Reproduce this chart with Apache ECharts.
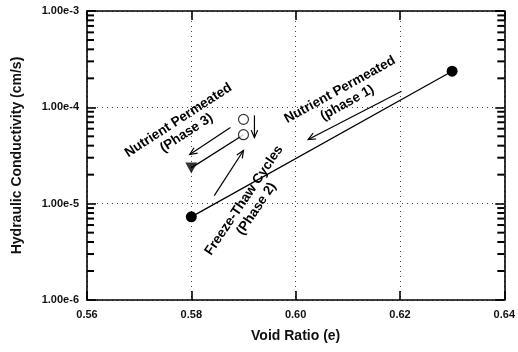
<!DOCTYPE html>
<html>
<head>
<meta charset="utf-8">
<script src="https://cdn.jsdelivr.net/npm/echarts@6/dist/echarts.min.js"></script>
<style>
html,body{margin:0;padding:0;background:#fff;}
#chart{width:518px;height:352px;}
</style>
</head>
<body>
<div id="chart"></div>
<script>
// ---- data ----
const xTicks = [0.56, 0.58, 0.60, 0.62, 0.64];
const yTicks = [1e-6, 1e-5, 1e-4, 1e-3];
// phase 1 line (void ratio, hydraulic conductivity)
const phase1E = [0.58, 0.63];
const phase1K = [7.3e-6, 2.37e-4];
// freeze-thaw points (open circles)
const freezeE = [0.59, 0.59];
const freezeK = [7.5e-5, 5.2e-5];
// phase 3 line (open circle -> triangle)
const phase3E = [0.59, 0.58];
const phase3K = [5.2e-5, 2.35e-5];
// annotation arrows: start and end (head at end)
const arrowStartE = [0.6203, 0.5875, 0.5844, 0.5921];
const arrowStartK = [1.47e-4, 6.19e-5, 1.21e-5, 8.26e-5];
const arrowEndE   = [0.6024, 0.5797, 0.5900, 0.5921];
const arrowEndK   = [4.64e-5, 3.24e-5, 3.56e-5, 4.87e-5];
// annotation texts
const noteText = ['Nutrient Permeated\n(phase 1)', 'Nutrient Permeated\n(Phase 3)', 'Freeze-Thaw Cycles\n(Phase 2)'];
const noteE = [0.6092, 0.5783, 0.5913];
const noteK = [1.30e-4, 6.3e-5, 9.8e-6];
const noteAngle = [29, 33, 56];
// minor log ticks (2..9 in each decade)
const minorK = [2e-6, 3e-6, 4e-6, 5e-6, 6e-6, 7e-6, 8e-6, 9e-6,
                2e-5, 3e-5, 4e-5, 5e-5, 6e-5, 7e-5, 8e-5, 9e-5,
                2e-4, 3e-4, 4e-4, 5e-4, 6e-4, 7e-4, 8e-4, 9e-4];
const xMin = 0.56, xMax = 0.64;

const FONT = '"Liberation Sans", Arial, Helvetica, sans-serif';
const zip = (a, b) => a.map((v, i) => [v, b[i]]);

const chart = echarts.init(document.getElementById('chart'), null, {renderer: 'canvas'});

const axisLineStyle = {color: '#000', width: 1.6};
const dotted = {color: '#444', width: 1, type: [1, 4]};
const tickStyle = {color: '#000', width: 1.6};

const option = {
  backgroundColor: '#fff',
  animation: false,
  grid: {left: 87, right: 12, top: 11, bottom: 52},
  xAxis: [{
    type: 'value', min: xMin, max: xMax, interval: 0.02, position: 'bottom',
    axisLine: {show: true, onZero: false, lineStyle: axisLineStyle},
    axisTick: {show: true, inside: true, length: 9, lineStyle: tickStyle},
    axisLabel: {color: '#111', fontFamily: FONT, fontWeight: 'bold', fontSize: 11, margin: 9,
      formatter: v => v.toFixed(2)},
    splitLine: {show: true, lineStyle: dotted},
    name: 'Void Ratio (e)', nameLocation: 'middle', nameGap: 29,
    nameTextStyle: {color: '#111', fontFamily: FONT, fontWeight: 'bold', fontSize: 14}
  }, {
    type: 'value', min: xMin, max: xMax, interval: 0.02, position: 'top',
    axisLine: {show: true, onZero: false, lineStyle: axisLineStyle},
    axisTick: {show: true, inside: true, length: 9, lineStyle: tickStyle},
    axisLabel: {show: false}, splitLine: {show: false}
  }],
  yAxis: [{
    type: 'log', logBase: 10, min: 1e-6, max: 1e-3, position: 'left',
    axisLine: {show: true, onZero: false, lineStyle: axisLineStyle},
    axisTick: {show: true, inside: true, length: 9, lineStyle: tickStyle},
    axisLabel: {color: '#111', fontFamily: FONT, fontWeight: 'bold', fontSize: 11, margin: 8,
      formatter: v => Number(v).toExponential(2)},
    splitLine: {show: true, lineStyle: dotted},
    name: 'Hydraulic Conductivity (cm/s)', nameLocation: 'middle', nameGap: 63, nameRotate: 90,
    nameTextStyle: {color: '#111', fontFamily: FONT, fontWeight: 'bold', fontSize: 14}
  }, {
    type: 'log', logBase: 10, min: 1e-6, max: 1e-3, position: 'right',
    axisLine: {show: true, onZero: false, lineStyle: axisLineStyle},
    axisTick: {show: true, inside: true, length: 9, lineStyle: tickStyle},
    axisLabel: {show: false}, splitLine: {show: false}
  }],
  series: [
    {
      name: 'Phase 1', type: 'line', data: zip(phase1E, phase1K),
      symbol: 'circle', symbolSize: 11, showSymbol: true,
      lineStyle: {color: '#000', width: 1.3}, itemStyle: {color: '#000'}, z: 5
    },
    {
      name: 'Phase 3', type: 'line', data: zip(phase3E, phase3K),
      symbol: 'none', lineStyle: {color: '#000', width: 1.3}, z: 4
    },
    {
      name: 'Phase 3 end', type: 'scatter', data: [zip(phase3E, phase3K)[1]],
      symbol: 'triangle', symbolRotate: 180, symbolSize: [12, 11],
      itemStyle: {color: '#000'}, z: 6
    },
    {
      name: 'Freeze-thaw', type: 'scatter', data: zip(freezeE, freezeK),
      symbol: 'circle', symbolSize: 10,
      itemStyle: {color: '#fff', borderColor: '#000', borderWidth: 1.2}, z: 7
    },
    {
      name: 'arrows', type: 'custom', silent: true, clip: false,
      data: arrowStartE.map((e, i) => [e, arrowStartK[i], arrowEndE[i], arrowEndK[i]]),
      renderItem: (params, api) => {
        const a = api.coord([api.value(0), api.value(1)]);
        const b = api.coord([api.value(2), api.value(3)]);
        const ang = Math.atan2(b[1] - a[1], b[0] - a[0]);
        const L = 8, h = 0.42;
        const p1 = [b[0] - L * Math.cos(ang - h), b[1] - L * Math.sin(ang - h)];
        const p2 = [b[0] - L * Math.cos(ang + h), b[1] - L * Math.sin(ang + h)];
        const st = {stroke: '#000', lineWidth: 1.2, fill: null};
        return {type: 'group', children: [
          {type: 'line', shape: {x1: a[0], y1: a[1], x2: b[0], y2: b[1]}, style: st},
          {type: 'polyline', shape: {points: [p1, b, p2]}, style: st}
        ]};
      }
    },
    {
      name: 'minorTicks', type: 'custom', silent: true, clip: false,
      data: minorK.map(k => [0.6, k]),
      renderItem: (params, api) => {
        const k = api.value(1);
        const a = api.coord([xMin, k]);
        const b = api.coord([xMax, k]);
        const st = {stroke: '#000', lineWidth: 2, fill: null};
        return {type: 'group', children: [
          {type: 'line', shape: {x1: a[0], y1: a[1], x2: a[0] + 7, y2: a[1]}, style: st},
          {type: 'line', shape: {x1: b[0] - 7, y1: b[1], x2: b[0], y2: b[1]}, style: st}
        ]};
      }
    },
    {
      name: 'notes', type: 'custom', silent: true, clip: false,
      data: noteE.map((e, i) => [e, noteK[i], i]),
      renderItem: (params, api) => {
        const i = api.value(2);
        const p = api.coord([api.value(0), api.value(1)]);
        return {
          type: 'text', x: p[0], y: p[1], rotation: noteAngle[i] * Math.PI / 180,
          style: {text: noteText[i], fill: '#000', font: 'bold 13.5px ' + FONT,
            align: 'center', verticalAlign: 'middle', lineHeight: 15}
        };
      }
    }
  ]
};
chart.setOption(option);
</script>
</body>
</html>
